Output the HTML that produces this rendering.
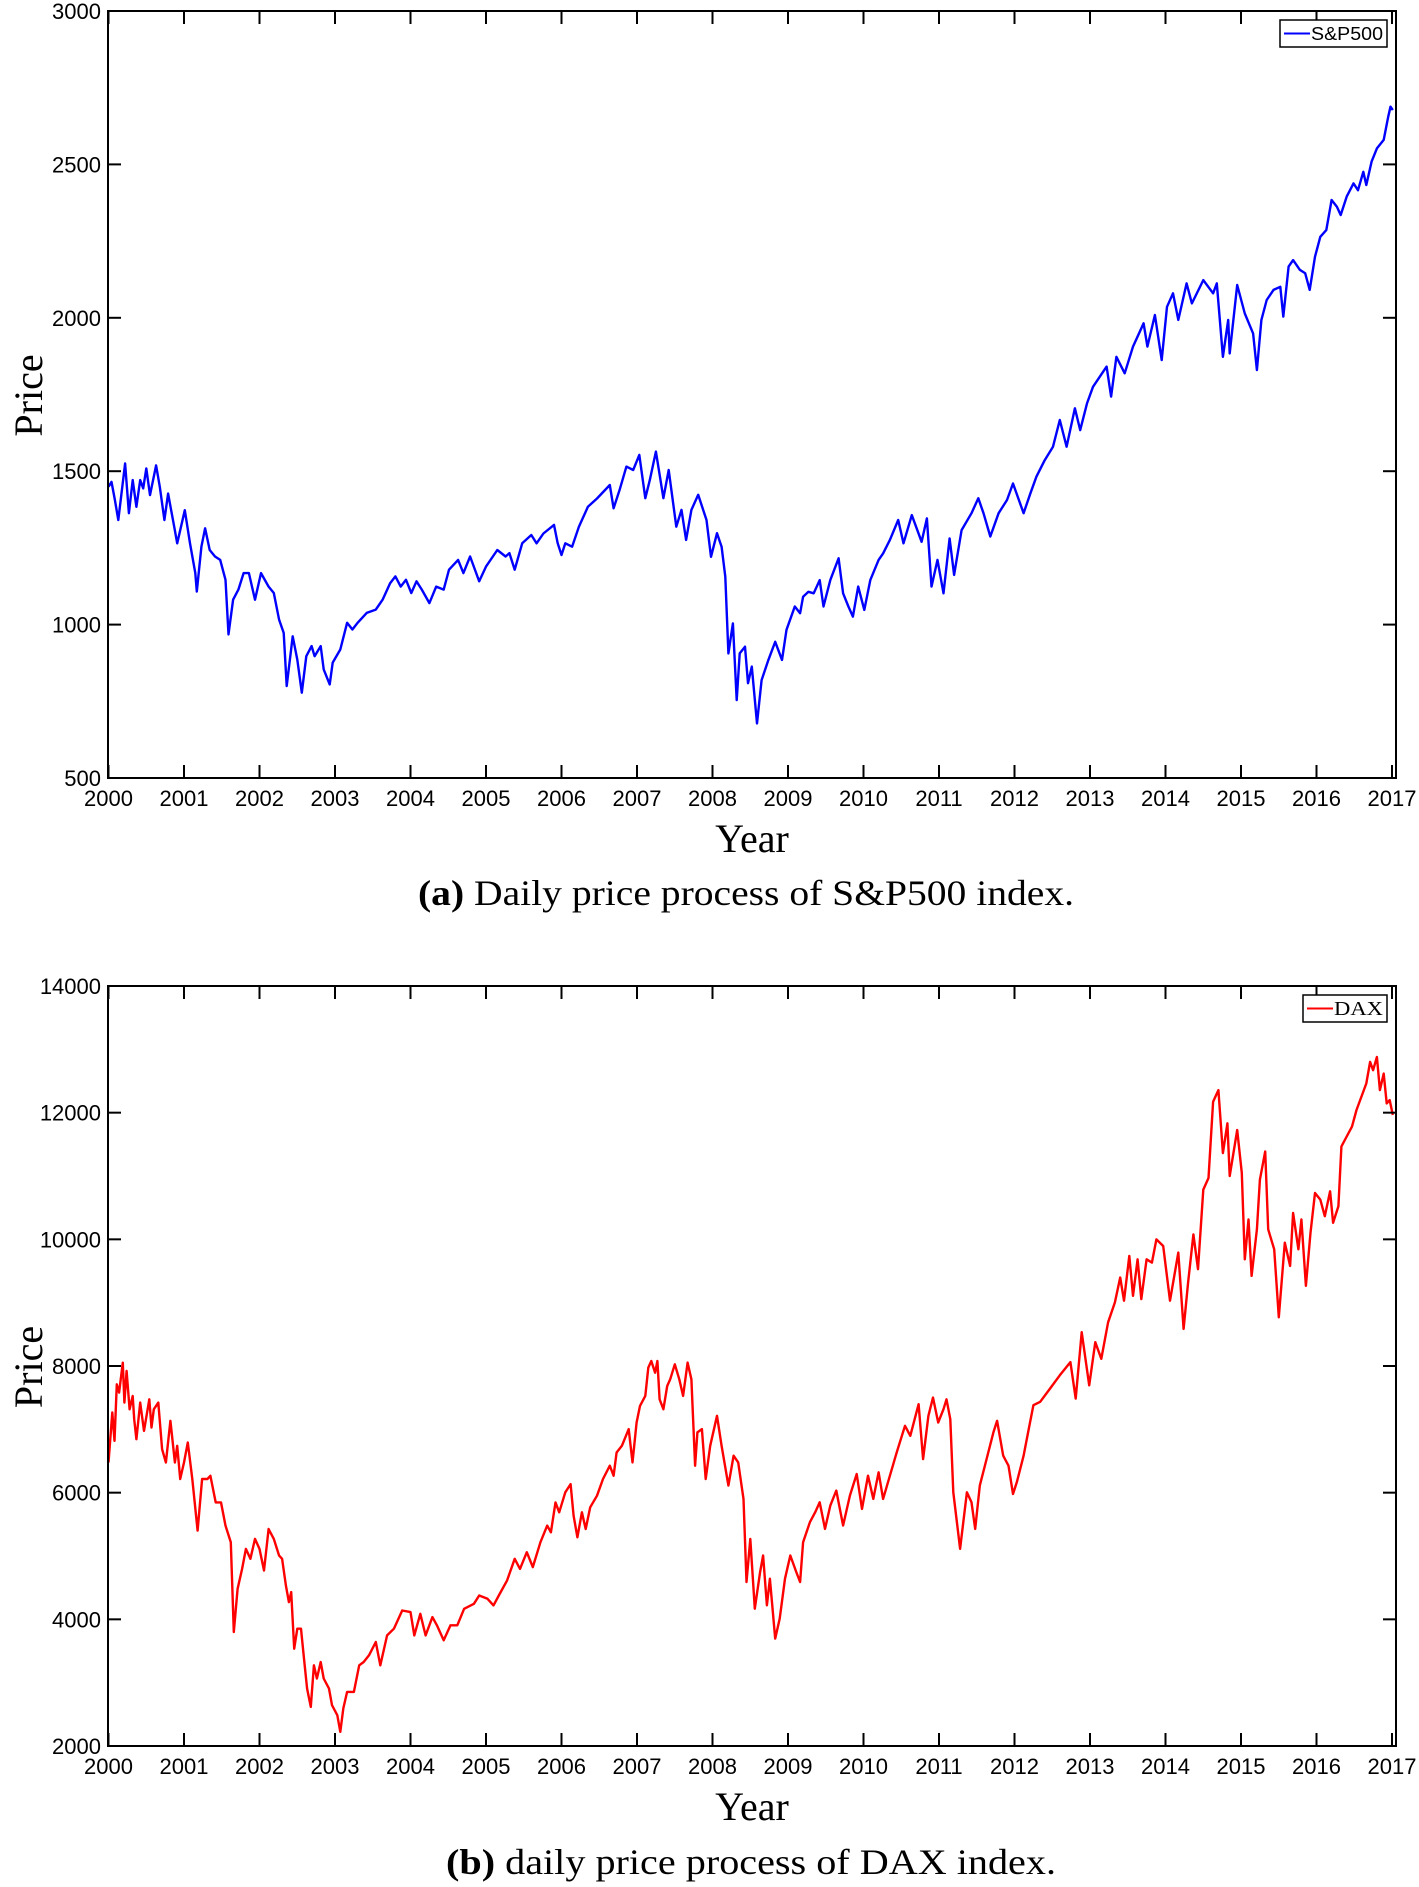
<!DOCTYPE html>
<html><head><meta charset="utf-8"><style>
html,body{margin:0;padding:0;background:#fff;}
svg{display:block;}
.tk{font-family:"Liberation Sans",Arial,sans-serif;font-size:22px;fill:#000;}
.sf{font-family:"Liberation Serif","Times New Roman",serif;fill:#000;}
</style></head><body>
<svg id="fig" width="1419" height="1887" viewBox="0 0 1419 1887" xmlns="http://www.w3.org/2000/svg">
<g id="chartA"></g>
<g id="chartB"></g>
<text class="sf" x="418" y="905" font-size="36" textLength="656" lengthAdjust="spacingAndGlyphs"><tspan font-weight="bold">(a)</tspan> Daily price process of S&amp;P500 index.</text>
<text class="sf" x="446" y="1874" font-size="36" textLength="610" lengthAdjust="spacingAndGlyphs"><tspan font-weight="bold">(b)</tspan> daily price process of DAX index.</text>
</svg>
<script>
const yearTicks = [2000,2001,2002,2003,2004,2005,2006,2007,2008,2009,2010,2011,2012,2013,2014,2015,2016,2017];
const spTicks = [500,1000,1500,2000,2500,3000];
const daxTicks = [2000,4000,6000,8000,10000,12000,14000];
const spYears = [2000,2000.04,2000.085,2000.13,2000.22,2000.27,2000.32,2000.37,2000.42,2000.46,2000.5,2000.55,2000.63,2000.68,2000.74,2000.79,2000.87,2000.91,2001.01,2001.08,2001.15,2001.17,2001.23,2001.28,2001.34,2001.41,2001.48,2001.55,2001.59,2001.65,2001.72,2001.79,2001.86,2001.94,2002.02,2002.12,2002.19,2002.26,2002.32,2002.36,2002.44,2002.5,2002.56,2002.62,2002.69,2002.73,2002.81,2002.85,2002.93,2002.97,2003.07,2003.16,2003.23,2003.3,2003.42,2003.54,2003.63,2003.73,2003.8,2003.87,2003.94,2004.01,2004.08,2004.15,2004.25,2004.34,2004.44,2004.51,2004.63,2004.7,2004.79,2004.91,2005,2005.15,2005.26,2005.31,2005.38,2005.48,2005.6,2005.67,2005.76,2005.9,2005.95,2006,2006.05,2006.14,2006.23,2006.35,2006.47,2006.64,2006.69,2006.77,2006.86,2006.95,2007.03,2007.11,2007.17,2007.25,2007.35,2007.42,2007.52,2007.59,2007.65,2007.72,2007.81,2007.92,2007.98,2008.06,2008.12,2008.17,2008.21,2008.27,2008.32,2008.36,2008.43,2008.47,2008.52,2008.59,2008.65,2008.74,2008.83,2008.92,2008.98,2009.09,2009.16,2009.2,2009.27,2009.34,2009.42,2009.47,2009.56,2009.67,2009.73,2009.8,2009.86,2009.93,2010.01,2010.09,2010.2,2010.26,2010.35,2010.46,2010.53,2010.64,2010.77,2010.84,2010.9,2010.98,2011.06,2011.14,2011.2,2011.3,2011.43,2011.52,2011.59,2011.68,2011.79,2011.9,2011.98,2012.12,2012.21,2012.29,2012.4,2012.51,2012.6,2012.69,2012.8,2012.87,2012.96,2013.04,2013.13,2013.22,2013.28,2013.35,2013.46,2013.57,2013.71,2013.76,2013.86,2013.95,2014.02,2014.1,2014.17,2014.28,2014.35,2014.5,2014.63,2014.68,2014.76,2014.83,2014.85,2014.95,2015.05,2015.16,2015.21,2015.27,2015.34,2015.43,2015.52,2015.56,2015.63,2015.69,2015.78,2015.85,2015.91,2015.98,2016.05,2016.13,2016.2,2016.27,2016.32,2016.4,2016.49,2016.55,2016.62,2016.66,2016.73,2016.8,2016.89,2016.95,2016.98,2017.01];
const spValues = [1449,1465,1406,1341,1525,1363,1471,1384,1471,1444,1509,1422,1519,1449,1341,1427,1319,1265,1373,1265,1168,1108,1254,1314,1243,1222,1211,1146,968,1081,1114,1168,1168,1081,1168,1124,1103,1016,973,800,962,886,778,897,930,897,930,854,805,876,919,1006,984,1006,1038,1049,1081,1135,1157,1124,1146,1103,1141,1114,1070,1124,1114,1179,1211,1168,1222,1141,1189,1243,1222,1233,1179,1265,1292,1265,1297,1325,1265,1227,1265,1254,1319,1384,1411,1455,1379,1439,1515,1504,1553,1412,1471,1564,1412,1504,1319,1374,1276,1374,1423,1341,1221,1298,1254,1156,906,1004,754,906,928,809,863,678,819,885,944,885,983,1059,1037,1091,1107,1102,1145,1059,1145,1216,1102,1059,1026,1124,1048,1145,1211,1232,1276,1341,1265,1357,1270,1346,1124,1211,1102,1281,1162,1308,1363,1412,1363,1287,1363,1406,1460,1363,1428,1482,1536,1580,1667,1580,1705,1634,1721,1775,1808,1841,1743,1873,1819,1906,1982,1906,2009,1862,2036,2080,1993,2112,2047,2123,2080,2112,1873,1993,1884,2107,2014,1949,1830,1993,2058,2091,2101,2004,2167,2188,2156,2145,2091,2199,2264,2286,2384,2362,2335,2395,2438,2416,2476,2433,2509,2552,2580,2655,2688,2677];
const daxYears = [2000,2000.05,2000.08,2000.11,2000.14,2000.19,2000.21,2000.24,2000.28,2000.32,2000.34,2000.37,2000.42,2000.47,2000.54,2000.57,2000.6,2000.66,2000.71,2000.76,2000.82,2000.88,2000.91,2000.95,2001,2001.05,2001.11,2001.18,2001.24,2001.31,2001.35,2001.42,2001.49,2001.55,2001.62,2001.66,2001.71,2001.77,2001.82,2001.88,2001.94,2002,2002.06,2002.12,2002.19,2002.26,2002.3,2002.35,2002.39,2002.42,2002.46,2002.5,2002.55,2002.59,2002.63,2002.68,2002.72,2002.76,2002.81,2002.85,2002.92,2002.96,2003.03,2003.07,2003.11,2003.16,2003.25,2003.32,2003.38,2003.45,2003.54,2003.6,2003.69,2003.78,2003.89,2004,2004.05,2004.13,2004.2,2004.29,2004.35,2004.44,2004.53,2004.62,2004.71,2004.84,2004.91,2005.02,2005.1,2005.17,2005.28,2005.38,2005.45,2005.54,2005.62,2005.72,2005.81,2005.86,2005.92,2005.97,2006.05,2006.12,2006.16,2006.21,2006.27,2006.32,2006.38,2006.47,2006.55,2006.64,2006.69,2006.73,2006.8,2006.89,2006.94,2006.995,2007.04,2007.11,2007.15,2007.19,2007.24,2007.27,2007.3,2007.35,2007.4,2007.44,2007.5,2007.56,2007.61,2007.67,2007.72,2007.77,2007.8,2007.86,2007.91,2007.97,2008.06,2008.12,2008.21,2008.28,2008.34,2008.41,2008.45,2008.5,2008.56,2008.63,2008.67,2008.72,2008.76,2008.83,2008.89,2008.96,2009.03,2009.11,2009.16,2009.2,2009.29,2009.36,2009.42,2009.49,2009.56,2009.64,2009.73,2009.82,2009.91,2009.98,2010.06,2010.13,2010.2,2010.26,2010.35,2010.44,2010.55,2010.62,2010.73,2010.79,2010.86,2010.92,2010.99,2011.06,2011.1,2011.15,2011.19,2011.28,2011.37,2011.43,2011.48,2011.54,2011.63,2011.72,2011.77,2011.85,2011.92,2011.98,2012.03,2012.12,2012.18,2012.25,2012.34,2012.47,2012.6,2012.74,2012.81,2012.89,2012.99,2013.07,2013.15,2013.24,2013.33,2013.4,2013.45,2013.52,2013.57,2013.63,2013.68,2013.75,2013.82,2013.88,2013.97,2014.06,2014.17,2014.24,2014.3,2014.37,2014.43,2014.5,2014.57,2014.63,2014.7,2014.76,2014.82,2014.85,2014.95,2015.01,2015.05,2015.1,2015.14,2015.21,2015.25,2015.32,2015.36,2015.44,2015.5,2015.58,2015.65,2015.69,2015.76,2015.8,2015.86,2015.92,2015.98,2016.05,2016.11,2016.18,2016.22,2016.29,2016.33,2016.4,2016.47,2016.53,2016.61,2016.66,2016.71,2016.75,2016.8,2016.84,2016.89,2016.93,2016.97,2017.01];
const daxValues = [6477,7265,6819,7711,7580,8052,7422,7921,7317,7527,7160,6845,7422,6976,7475,7029,7317,7422,6687,6477,7134,6477,6740,6215,6477,6792,6215,5401,6215,6215,6267,5847,5847,5480,5217,3800,4482,4797,5112,4955,5270,5112,4771,5427,5270,5007,4955,4535,4272,4430,3537,3852,3852,3380,2907,2618,3275,3065,3327,3065,2907,2644,2487,2225,2592,2854,2854,3275,3327,3432,3642,3275,3747,3852,4140,4114,3747,4088,3747,4035,3905,3669,3905,3905,4167,4246,4377,4325,4220,4377,4614,4955,4797,5060,4824,5217,5480,5375,5847,5690,6005,6136,5637,5296,5690,5427,5769,5952,6216,6426,6268,6635,6740,7003,6478,7108,7370,7528,7974,8079,7895,8079,7475,7318,7685,7790,8027,7790,7528,8053,7790,6426,6951,7003,6216,6740,7213,6740,6111,6583,6478,5901,4589,5270,4168,4746,5008,4221,4641,3696,4011,4641,5008,4746,4589,5218,5533,5691,5848,5428,5796,6032,5481,5953,6294,5743,6268,5901,6321,5901,6268,6636,7055,6898,7397,6530,7213,7501,7108,7318,7475,7160,6005,5113,6005,5848,5428,6111,6531,6951,7134,6583,6426,5979,6163,6583,6951,7381,7434,7643,7853,8062,7486,8533,7696,8376,8114,8690,9004,9397,9031,9738,9109,9685,9057,9685,9633,9999,9895,9031,9790,8586,9319,10078,9528,10785,10968,12172,12356,11361,11832,11000,11727,11047,9685,10313,9423,10157,10942,11387,10157,9842,8769,9947,9581,10418,9842,10313,9266,10104,10732,10628,10366,10759,10261,10523,11466,11623,11780,12042,12303,12460,12801,12670,12879,12356,12617,12146,12199,11963];

const NS = 'http://www.w3.org/2000/svg';
const L = 108.5, R = 1396, PXY = 75.5;
function xScale(yr){ return L + (yr - 2000) * PXY; }
function mk(tag, attrs, parent){
  const e = document.createElementNS(NS, tag);
  for (const k in attrs) e.setAttribute(k, attrs[k]);
  parent.appendChild(e); return e;
}
function drawChart(g, top, bot, vmin, vmax, yticks, years, values, color, legendText, legendSans, legendX, seriesName){
  const yScale = v => bot - (v - vmin) / (vmax - vmin) * (bot - top);
  let d = '';
  for (let i = 0; i < years.length; i++) d += (i ? 'L' : 'M') + xScale(years[i]).toFixed(1) + ' ' + yScale(values[i]).toFixed(1);
  const p = mk('path', {d: d, fill: 'none', stroke: color, 'stroke-width': 2.4, 'stroke-linejoin': 'round'}, g);
  
  
  const fr = mk('rect', {x: 108, y: top, width: R - 108, height: bot - top, fill: 'none', stroke: '#000', 'stroke-width': 2}, g);
  
  
  yearTicks.forEach(yr => {
    const x = xScale(yr);
    const t1 = mk('line', {x1: x, x2: x, y1: bot, y2: bot - 13, stroke: '#000', 'stroke-width': 2}, g);
    
    
    const t2 = mk('line', {x1: x, x2: x, y1: top, y2: top + 13, stroke: '#000', 'stroke-width': 2}, g);
    
    
    const lb = mk('text', {x: x, y: bot + 28, 'text-anchor': 'middle', class: 'tk'}, g);
    lb.textContent = yr;
    
    
  });
  yticks.forEach(v => {
    const y = yScale(v);
    const t1 = mk('line', {x1: 108, x2: 121, y1: y, y2: y, stroke: '#000', 'stroke-width': 2}, g);
    
    
    const t2 = mk('line', {x1: R, x2: R - 13, y1: y, y2: y, stroke: '#000', 'stroke-width': 2}, g);
    
    
    const lb = mk('text', {x: 101, y: y + 8, 'text-anchor': 'end', class: 'tk'}, g);
    lb.textContent = v;
    
    
  });
  const xt = mk('text', {x: 752, y: bot + 74, 'text-anchor': 'middle', class: 'sf', 'font-size': 40}, g);
  xt.textContent = 'Year';
  
  
  const cy = top + (bot - top) * 0.5;
  const yt = mk('text', {x: 0, y: 0, 'text-anchor': 'middle', class: 'sf', 'font-size': 40, transform: 'translate(42,' + (cy + 1) + ') rotate(-90)'}, g);
  yt.textContent = 'Price';
  
  
  const lg = mk('g', {}, g);
  
  
  const ly = top + 9;
  mk('rect', {x: legendX, y: ly, width: 1387 - legendX, height: 27, fill: '#fff', stroke: '#000', 'stroke-width': 1.5}, lg);
  const ll = mk('line', {x1: legendX + 4, x2: legendX + 30, y1: ly + 13.5, y2: ly + 13.5, stroke: color, 'stroke-width': 2}, lg);
  
  
  const tw = 1387 - legendX - 35;
  const lt = mk('text', {x: legendX + 31, y: ly + 20, class: legendSans ? 'tk' : 'sf', textLength: tw, lengthAdjust: 'spacingAndGlyphs'}, lg);
  lt.setAttribute('font-size', legendSans ? 18 : 20);
  lt.setAttribute('style', 'font-size:' + (legendSans ? 18 : 20) + 'px');
  lt.textContent = legendText;
  
  
}
drawChart(document.getElementById('chartA'), 11, 778, 500, 3000, spTicks, spYears, spValues, '#0000ff', 'S&P500', true, 1280, 'sp500-line');
drawChart(document.getElementById('chartB'), 986, 1746, 2000, 14000, daxTicks, daxYears, daxValues, '#ff0000', 'DAX', false, 1303, 'dax-line');
</script>
</body></html>
